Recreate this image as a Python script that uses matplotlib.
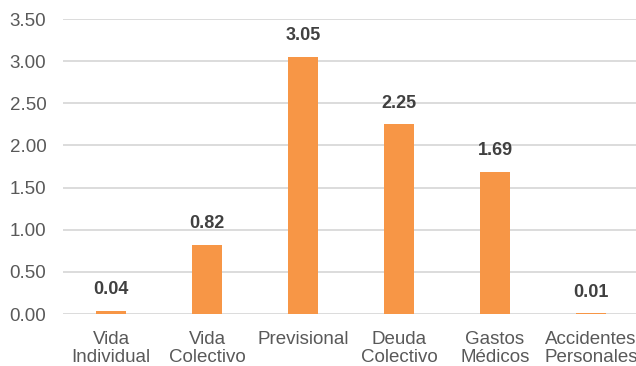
import matplotlib
matplotlib.use("Agg")
import matplotlib.pyplot as plt

# data
categories = ["Vida\nIndividual", "Vida\nColectivo", "Previsional", "Deuda\nColectivo",
              "Gastos\nMédicos", "Accidentes\nPersonales"]
values = [0.04, 0.82, 3.05, 2.25, 1.69, 0.01]
yticks = [0.0, 0.5, 1.0, 1.5, 2.0, 2.5, 3.0, 3.5]

plt.rcParams['font.family'] = ['Liberation Sans', 'DejaVu Sans']

fig = plt.figure(figsize=(6.36, 3.66), dpi=100)
ax = fig.add_axes([0.0991, 0.142, 0.9057, 0.806])

x = range(len(categories))
ax.bar(x, values, width=0.31, color="#F79646", zorder=3)

for xi, v in zip(x, values):
    ax.annotate(f"{v:.2f}", xy=(xi, v), xytext=(0, 9), textcoords="offset points",
                ha="center", va="bottom", fontsize=13, fontweight="bold", color="#404040")

ax.set_xlim(-0.5, 5.5)
ax.set_ylim(0, 3.5)
ax.set_yticks(yticks)
ax.set_yticklabels([f"{t:.2f}" for t in yticks])
ax.set_xticks(list(x))
ax.set_xticklabels(categories, linespacing=1.1)

ax.grid(axis="y", color="#D9D9D9", linewidth=1.3, zorder=0)
ax.set_axisbelow(True)
for s in ax.spines.values():
    s.set_visible(False)
ax.tick_params(axis="both", length=0, labelsize=13.5, labelcolor="#595959")
ax.tick_params(axis="y", pad=12)
ax.tick_params(axis="x", pad=12)

fig.savefig("out.png", dpi=100)
